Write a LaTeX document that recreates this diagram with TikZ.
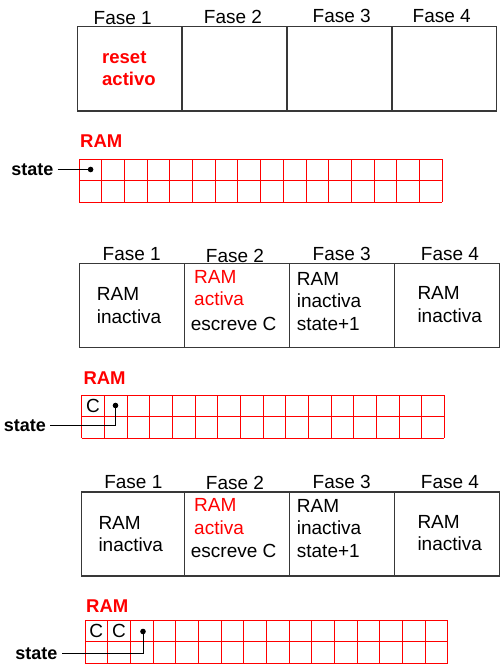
\documentclass[tikz,border=0pt]{standalone}
\usepackage{fontspec}
\setmainfont{Liberation Sans}
\begin{document}
\begin{tikzpicture}[x=1pt,y=-1pt,
  every node/.style={inner sep=0pt},
  % multi-line texts are placed by the baseline of their last line
  txt/.style={font=\fontsize{19}{22.4}\selectfont, align=left, anchor=base west},
  fase/.style={font=\fontsize{19}{22.4}\selectfont, anchor=base},
  lbl/.style={font=\fontsize{18.5}{22.4}\selectfont\bfseries, anchor=base west},
  hot/.style={text=red},
  statelbl/.style={font=\fontsize{18}{22}\selectfont\bfseries, anchor=east, inner xsep=4pt},
  tbl/.style={draw=black!78, line width=1.3pt},
  cellline/.style={draw=red, line width=1pt},
  dot/.style={circle, fill=black, minimum size=5.6pt},
  ptr/.style={draw=black, line width=0.9pt},
  memchar/.style={font=\fontsize{19}{22.4}\selectfont},
  ram/.pic={
    \foreach \i in {0,...,16}
      \draw[cellline] (\i*22.67,0) -- (\i*22.67,43.3);
    \foreach \j in {0,1,2}
      \draw[cellline] (0,\j*21.65) -- (362.7,\j*21.65);
  }]
\useasboundingbox (0,0) rectangle (501,664);

% ---- first cycle: reset ----
\draw[tbl] (77.3,26.7) rectangle (496.7,111);
\foreach \x in {182,287,392} \draw[tbl] (\x,26.7) -- (\x,111);
\node[fase] (fa1) at (122.7,24) {Fase 1};
\node[fase] (fa2) at (233,23.3) {Fase 2};
\node[fase] (fa3) at (341.7,22.7) {Fase 3};
\node[fase] (fa4) at (441.7,22.7) {Fase 4};
\node[txt, hot, font=\fontsize{18.5}{22.5}\selectfont\bfseries] (reset) at (102,85.5) {reset\\activo};

\node[lbl, hot] (rama) at (80,147.3) {RAM};
\pic at (79.3,159) {ram};
\node[dot] (da) at (90.6,169.5) {};
\node[statelbl] (sa) at (57.7,169.5) {state};
\draw[ptr] (sa.east) -- (da.center);

% ---- second cycle: first write ----
\draw[tbl] (79.3,263.3) rectangle (499.3,347.3);
\foreach \x in {184.3,289.3,394.3} \draw[tbl] (\x,263.3) -- (\x,347.3);
\node[fase] (fb1) at (131.7,260.6) {Fase 1};
\node[fase] (fb2) at (235,262.3) {Fase 2};
\node[fase] (fb3) at (341.7,260.6) {Fase 3};
\node[fase] (fb4) at (450,260.6) {Fase 4};
\node[txt] (b1) at (96.7,323.3) {RAM\\inactiva};
\node[txt, hot] (b2) at (194,305.7) {RAM\\activa};
\node[txt] (b2w) at (190.7,330) {escreve C};
\node[txt] (b3) at (296.7,330) {RAM\\inactiva\\state+1};
\node[txt] (b4) at (417.3,322.3) {RAM\\inactiva};

\node[lbl, hot] (ramb) at (83.3,384) {RAM};
\pic at (81.7,395) {ram};
\node[memchar] (mb1) at (93,405.8) {C};
\node[dot] (db) at (115.5,405.5) {};
\node[statelbl] (sb) at (50,425.7) {state};
\draw[ptr] (db.center) |- (sb.east);

% ---- third cycle: second write ----
\draw[tbl] (81.7,492) rectangle (499.5,576);
\foreach \x in {184.3,289.3,394.3} \draw[tbl] (\x,492) -- (\x,576);
\node[fase] (fc1) at (133.3,488.9) {Fase 1};
\node[fase] (fc2) at (235,489.9) {Fase 2};
\node[fase] (fc3) at (341.7,488.9) {Fase 3};
\node[fase] (fc4) at (450,488.9) {Fase 4};
\node[txt] (c1) at (98.3,551.7) {RAM\\inactiva};
\node[txt, hot] (c2) at (194,534) {RAM\\activa};
\node[txt] (c2w) at (190.7,557.3) {escreve C};
\node[txt] (c3) at (296.7,557.3) {RAM\\inactiva\\state+1};
\node[txt] (c4) at (417.3,550.7) {RAM\\inactiva};

\node[lbl, hot] (ramc) at (86,612.3) {RAM};
\pic at (85,620) {ram};
\node[memchar] (mc1) at (96.3,631) {C};
\node[memchar] (mc2) at (119,631) {C};
\node[dot] (dc) at (143,631.5) {};
\node[statelbl] (sc) at (61.7,653.3) {state};
\draw[ptr] (dc.center) |- (sc.east);
\end{tikzpicture}
\end{document}
